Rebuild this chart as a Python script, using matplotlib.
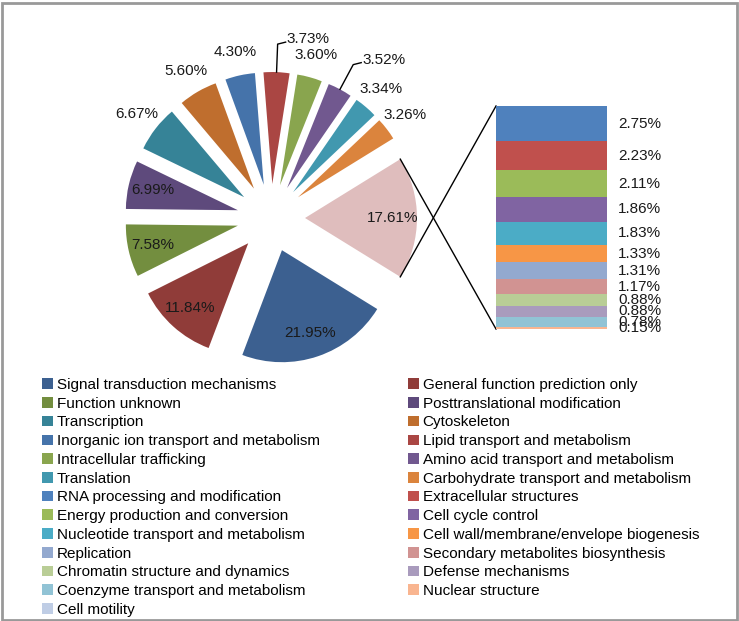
import numpy as np
import matplotlib
matplotlib.use('Agg')
import matplotlib.pyplot as plt
from matplotlib.patches import Patch, Rectangle

plt.rcParams['font.family'] = ['Liberation Sans', 'DejaVu Sans']

# categories shown as pie slices (percent)
pie_names = ['Signal transduction mechanisms', 'General function prediction only',
             'Function unknown', 'Posttranslational modification',
             'Transcription', 'Cytoskeleton',
             'Inorganic ion transport and metabolism', 'Lipid transport and metabolism',
             'Intracellular trafficking', 'Amino acid transport and metabolism',
             'Translation', 'Carbohydrate transport and metabolism']
pie_values = [21.95, 11.84, 7.58, 6.99, 6.67, 5.60, 4.30, 3.73, 3.60, 3.52, 3.34, 3.26]
pie_colors = ['#3c6090', '#903c39', '#738e3f', '#5e4a7c', '#368397', '#bf6e2e',
              '#4573aa', '#aa4643', '#89a54e', '#71588f', '#4198af', '#db843d']
other_value = 17.61
other_color = '#dfbdbd'

# categories grouped in the "other" slice and shown in the stacked bar
bar_names = ['RNA processing and modification', 'Extracellular structures',
             'Energy production and conversion', 'Cell cycle control',
             'Nucleotide transport and metabolism', 'Cell wall/membrane/envelope biogenesis',
             'Replication', 'Secondary metabolites biosynthesis',
             'Chromatin structure and dynamics', 'Defense mechanisms',
             'Coenzyme transport and metabolism', 'Nuclear structure']
bar_values = [2.75, 2.23, 2.11, 1.86, 1.83, 1.33, 1.31, 1.17, 0.88, 0.88, 0.78, 0.15]
bar_colors = ['#4f81bd', '#c0504d', '#9bbb59', '#8064a2', '#4bacc6', '#f79646',
              '#93a9cf', '#d19392', '#b9cd96', '#a99bbd', '#91c3d5', '#f9b590']
# listed in the legend, no visible segment
extra_name = 'Cell motility'
extra_color = '#bfcde5'

FS = 11
W, H = 739, 621
fig = plt.figure(figsize=(W / 100, H / 100), dpi=100)
ax = fig.add_axes([0, 0, 1, 1])

# pie (pixel coordinates, y up)
pc = (271, 403)
rad = 112
expl = 34
vals = pie_values + [other_value]
cols = pie_colors + [other_color]
wedges, _ = ax.pie(vals, colors=cols, radius=rad, center=pc, explode=[expl] * len(vals),
                   startangle=-other_value * 1.8, counterclock=False,
                   wedgeprops=dict(linewidth=0))
ax.set_xlim(0, W)
ax.set_ylim(0, H)
ax.set_aspect('equal')
ax.axis('off')

leader = {7, 9}  # labels pulled out with a leader line
for i, (w, v) in enumerate(zip(wedges, vals)):
    th = np.deg2rad((w.theta1 + w.theta2) / 2)
    d = np.array([np.cos(th), np.sin(th)])
    c = np.array(w.center)
    lab = '%.2f%%' % v
    if v > 6.8:
        p = c + 0.78 * rad * d
        ax.text(p[0], p[1], lab, ha='center', va='center', fontsize=FS, color='#1a1a1a')
    elif i in leader:
        p0 = c + rad * d
        p1 = c + 1.25 * rad * d
        p2 = p1 + np.array([8, 2])
        ax.plot([p0[0], p1[0], p2[0]], [p0[1], p1[1], p2[1]], color='black', lw=1)
        ax.text(p2[0] + 1, p2[1] + 3, lab, ha='left', va='center', fontsize=FS,
                color='#1a1a1a')
    else:
        p = c + 1.21 * rad * d
        ax.text(p[0], p[1], lab, ha='center', va='center', fontsize=FS, color='#1a1a1a')

# stacked bar of the other slice
bx, by, bw, bh = 496, 292, 111, 223
bax = fig.add_axes([bx / W, by / H, bw / W, bh / H])
total = sum(bar_values)
tops = total - np.cumsum([0] + bar_values[:-1])
bottoms = tops - np.array(bar_values)
bax.bar(0, bar_values, bottom=bottoms, width=1, color=bar_colors, linewidth=0)
bax.set_xlim(-0.5, 0.5)
bax.set_ylim(0, total)
bax.axis('off')
for v, b in zip(bar_values, bottoms):
    bax.text(1.1, b + v / 2, '%.2f%%' % v, transform=bax.get_yaxis_transform(),
             ha='left', va='center', fontsize=FS, color='#1a1a1a')

# connector lines from the other slice to the bar
ow = wedges[-1]
oc = np.array(ow.center)
for ang, yy in [(ow.theta1, by + bh), (ow.theta2, by)]:
    a = np.deg2rad(ang)
    q = oc + rad * np.array([np.cos(a), np.sin(a)])
    ax.plot([q[0], bx], [q[1], yy], color='black', lw=1)

# legend, row-major order in two columns
names = pie_names + bar_names + [extra_name]
colors = pie_colors + bar_colors + [extra_color]
handles = [Patch(facecolor=c, edgecolor='none', label=n) for n, c in zip(names, colors)]
handles = handles[0::2] + handles[1::2]
fig.legend(handles=handles, loc='upper left', bbox_to_anchor=(42 / W, 1 - 378 / H),
           ncol=2, frameon=False, fontsize=FS, borderpad=0, borderaxespad=0,
           handlelength=0.7, handleheight=0.7, handletextpad=0.25,
           labelspacing=0.31, columnspacing=5.8)

# outer frame
fig.patches.append(Rectangle((1.5 / W, 1.5 / H), 1 - 4 / W, 1 - 4 / H, fill=False,
                             edgecolor='#999999', lw=2, transform=fig.transFigure))

fig.savefig('out.png', dpi=100)
